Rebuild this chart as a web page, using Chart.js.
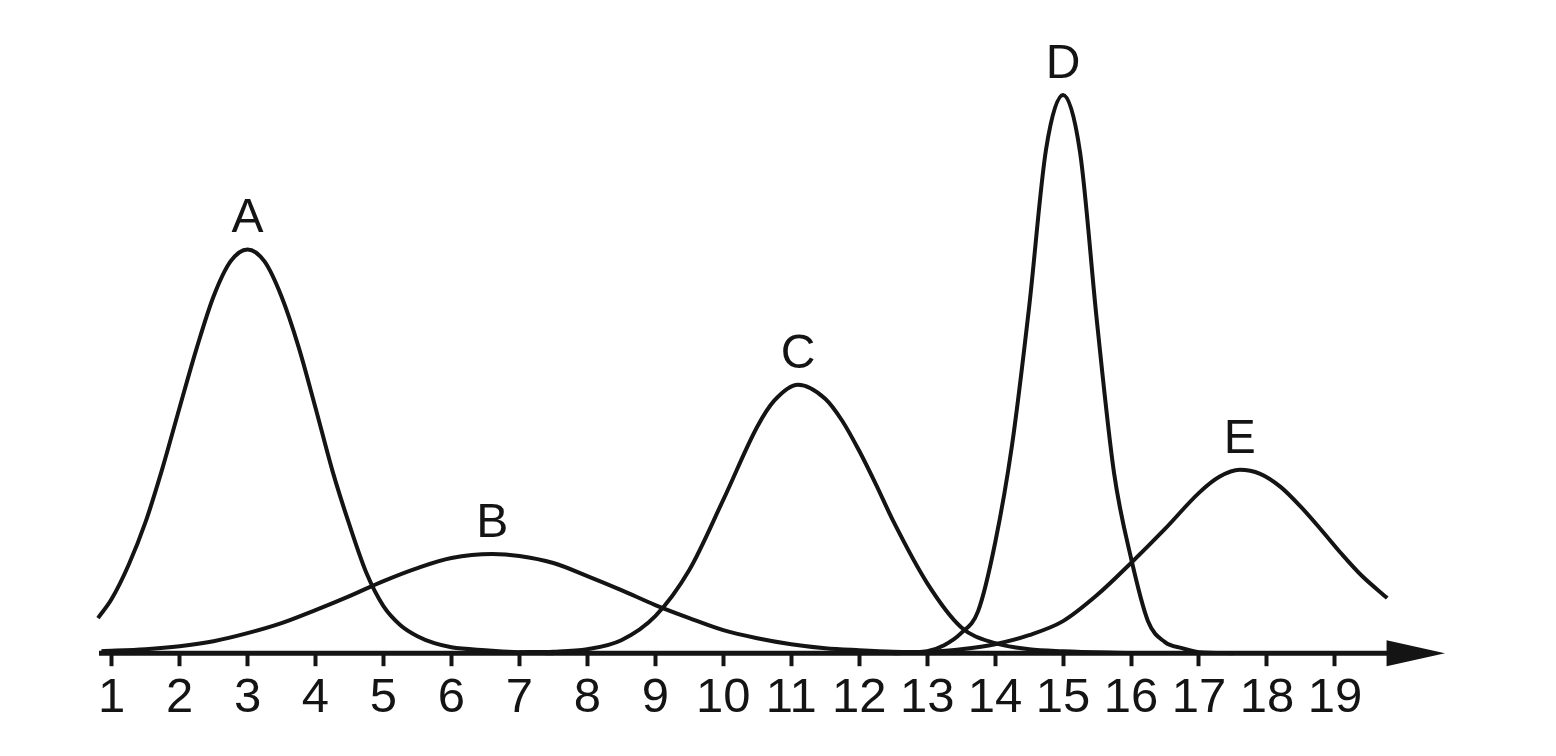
<!DOCTYPE html>
<html>
<head>
<meta charset="utf-8">
<title>Peaks A-E</title>
<script src="https://cdn.jsdelivr.net/npm/chart.js@4.4.1/dist/chart.umd.min.js"></script>
<style>
    html, body { margin: 0; padding: 0; background: #fff; }
    #wrap { width: 1556px; height: 756px; }
</style>
</head>
<body>
<div id="wrap"><canvas id="peakChart"></canvas></div>
<script>
// ========== data ==========
const tickValues = [1, 2, 3, 4, 5, 6, 7, 8, 9, 10, 11, 12, 13, 14, 15, 16, 17, 18, 19];
const peakNames = ['A', 'B', 'C', 'D', 'E'];

// peak A
const aX = [0.8, 1.0, 1.25, 1.5, 1.75, 2.0, 2.25, 2.5, 2.75, 3.0, 3.25, 3.5, 3.75, 4.0, 4.25, 4.5, 4.75, 5.0, 5.25, 5.5, 5.75, 6.0, 6.5, 7.0, 7.5];
const aY = [35, 54, 88, 131, 185, 245, 304, 356, 391, 403, 391, 356, 306, 245, 182, 128, 80, 47, 28, 17, 10, 6, 3, 1, 0];

// peak B
const bX = [0.85, 1.5, 2.0, 2.5, 3.0, 3.5, 4.0, 4.5, 5.0, 5.5, 6.0, 6.6, 7.0, 7.5, 8.0, 8.5, 9.0, 9.5, 10.0, 10.5, 11.0, 11.5, 12.0, 12.5, 13.0, 14.0];
const bY = [2, 4, 7, 12, 20, 30, 43, 57, 72, 85, 95, 99, 97, 90, 77, 63, 48, 35, 23, 15, 9, 5, 3, 1.5, 1, 0];

// peak C
const cX = [7.0, 7.5, 8.0, 8.5, 9.0, 9.5, 10.0, 10.5, 10.75, 11.1, 11.5, 11.75, 12.0, 12.25, 12.5, 13.0, 13.5, 14.0, 14.5, 15.0, 16.0];
const cY = [1, 1.5, 4, 13, 37, 83, 153, 226, 252, 268, 254, 232, 202, 168, 132, 70, 26, 10, 4, 2, 0];

// peak D
const dX = [12.5, 13.0, 13.25, 13.5, 13.75, 14.0, 14.25, 14.5, 14.75, 15.0, 15.25, 15.5, 15.75, 16.0, 16.25, 16.5, 16.75, 17.0, 17.5];
const dY = [0, 2, 8, 20, 42, 110, 208, 345, 503, 557, 500, 330, 180, 95, 32, 11, 5, 1, 0];

// peak E
const eX = [13.0, 13.5, 14.0, 14.5, 15.0, 15.5, 16.0, 16.5, 17.0, 17.3, 17.6, 17.9, 18.2, 18.5, 18.8, 19.1, 19.4, 19.77];
const eY = [1, 4, 9, 18, 32, 58, 90, 124, 160, 176, 183, 179, 166, 146, 123, 99, 77, 55];

// ========== style ==========
const INK = '#141414';
const FONT = '"Liberation Sans", Arial, Helvetica, sans-serif';
const X_MIN = 0.8;
const X_MAX = 20.62;
const ARROW_BASE = 19.76;

function toPoints(xs, ys) {
    return xs.map((x, i) => ({ x: x, y: ys[i] }));
}

const curves = [[aX, aY], [bX, bY], [cX, cY], [dX, dY], [eX, eY]];

// axis line + arrow head
const axisArrow = {
    id: 'axisArrow',
    beforeDatasetsDraw(chart) {
        const { ctx, chartArea, scales } = chart;
        const y0 = chartArea.bottom;
        const base = scales.x.getPixelForValue(ARROW_BASE);
        const tip = scales.x.getPixelForValue(X_MAX);
        ctx.save();
        ctx.strokeStyle = INK;
        ctx.fillStyle = INK;
        ctx.lineWidth = 5;
        ctx.beginPath();
        ctx.moveTo(chartArea.left + 1, y0);
        ctx.lineTo(base + 2, y0);
        ctx.stroke();
        ctx.beginPath();
        ctx.moveTo(base, y0 - 13);
        ctx.lineTo(tip, y0);
        ctx.lineTo(base, y0 + 13);
        ctx.closePath();
        ctx.fill();
        ctx.restore();
    }
};

// letters above each peak
const peakLetters = {
    id: 'peakLetters',
    afterDatasetsDraw(chart) {
        const { ctx, scales } = chart;
        ctx.save();
        ctx.fillStyle = INK;
        ctx.font = '48px ' + FONT;
        ctx.textAlign = 'center';
        ctx.textBaseline = 'alphabetic';
        curves.forEach(([xs, ys], i) => {
            let k = 0;
            ys.forEach((v, j) => { if (v > ys[k]) k = j; });
            const px = scales.x.getPixelForValue(xs[k]);
            const py = scales.y.getPixelForValue(ys[k]);
            ctx.fillText(peakNames[i], px, py - 17);
        });
        ctx.restore();
    }
};

const ctx = document.getElementById('peakChart').getContext('2d');
new Chart(ctx, {
    type: 'line',
    data: {
        datasets: curves.map(([xs, ys], i) => ({
            label: peakNames[i],
            data: toPoints(xs, ys),
            borderColor: INK,
            borderWidth: 4,
            pointRadius: 0,
            fill: false,
            cubicInterpolationMode: 'monotone',
            clip: false
        }))
    },
    options: {
        responsive: true,
        maintainAspectRatio: false,
        animation: false,
        layout: { padding: { left: 98, right: 111, top: 52, bottom: 25 } },
        scales: {
            x: {
                type: 'linear',
                min: X_MIN,
                max: X_MAX,
                afterBuildTicks(scale) {
                    scale.ticks = tickValues.map(v => ({ value: v }));
                },
                grid: {
                    drawOnChartArea: false,
                    drawTicks: true,
                    tickLength: 13,
                    tickWidth: 4,
                    tickColor: INK
                },
                border: { display: false },
                ticks: {
                    autoSkip: false,
                    maxRotation: 0,
                    padding: 3,
                    color: INK,
                    font: { family: FONT, size: 49 },
                    callback: v => String(v)
                }
            },
            y: {
                display: false,
                min: 0,
                max: 600
            }
        },
        plugins: {
            legend: { display: false },
            tooltip: { enabled: false }
        }
    },
    plugins: [axisArrow, peakLetters]
});
</script>
</body>
</html>
